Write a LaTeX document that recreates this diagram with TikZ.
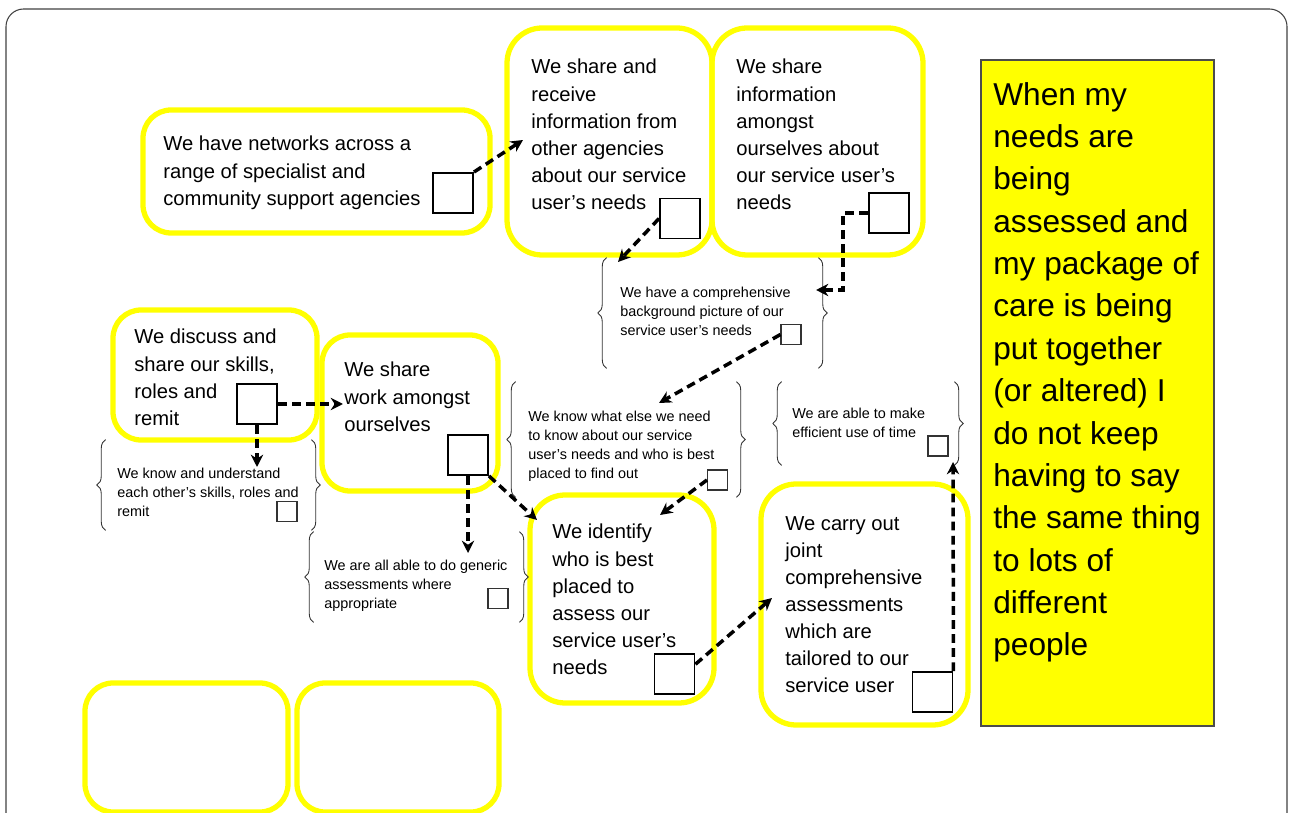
\documentclass[tikz,border=0pt]{standalone}
\usepackage{fontspec}
\setmainfont{Liberation Sans}
\usetikzlibrary{arrows.meta, fit, calc, decorations.pathreplacing}
\definecolor{cardyellow}{RGB}{255,255,0}
\tikzset{
  ybox/.style     = {draw=cardyellow, line width=3pt, rounded corners=16pt,
                     inner sep=0pt},
  tickbox/.style  = {draw=black, line width=1.1pt, minimum size=0.8cm,
                     inner sep=0pt},
  smallbox/.style = {draw=black!80, line width=0.6pt, minimum size=0.4cm,
                     inner sep=0pt},
  bracebox/.style = {inner sep=0pt},
  curly/.style    = {decorate, decoration={brace, amplitude=5pt},
                     line width=0.5pt, draw=black!80},
  cardtext/.style = {anchor=north west, inner sep=0pt, align=left,
                     font=\fontsize{11.5}{15.4}\selectfont},
  notetext/.style = {anchor=north west, inner sep=0pt, align=left,
                     font=\fontsize{8.2}{10.8}\selectfont},
  bigtext/.style  = {anchor=north west, inner sep=0pt, align=left,
                     font=\fontsize{18}{24.1}\selectfont},
  darrow/.style   = {-{Stealth[length=7pt, width=7pt]}, line width=2pt,
                     dash pattern=on 5pt off 3pt},
}

\begin{document}
\begin{tikzpicture}[x=0.02cm, y=-0.02cm]
  \useasboundingbox (0,0) rectangle (1290,813);
  % outer frame
  \draw[black!75, line width=0.6pt, rounded corners=10pt]
    (6,830) -- (6,9) -- (1287,9) -- (1287,830);

  % yellow cards
  \node[ybox, fit={(143,110) (490,233)}] (net) {};
  \node[ybox, rounded corners=20pt, fit={(507,28) (712,255)}] (recv) {};
  \node[ybox, rounded corners=20pt, fit={(712,28) (923,255)}] (among) {};
  \node[ybox, fit={(113,310) (317,440)}] (disc) {};
  \node[ybox, fit={(322,335) (498,491)}] (work) {};
  \node[ybox, rounded corners=20pt, fit={(530,495) (714,703)}] (ident) {};
  \node[ybox, rounded corners=20pt, fit={(761,484) (968,725)}] (joint) {};
  \node[ybox, fit={(85,683) (288,812)}] (blankA) {};
  \node[ybox, fit={(297,683) (499,812)}] (blankB) {};

  \node[cardtext] (nettext) at (163,136)
    {We have networks across a\\range of specialist and\\community support agencies};
  \node[cardtext] (recvtext) at (531,59)
    {We share and\\receive\\information from\\other agencies\\about our service\\user’s needs};
  \node[cardtext] (amongtext) at (736,59)
    {We share\\information\\amongst\\ourselves about\\our service user’s\\needs};
  \node[cardtext] (disctext) at (134,329)
    {We discuss and\\share our skills,\\roles and\\remit};
  \node[cardtext] (worktext) at (344,362)
    {We share\\work amongst\\ourselves};
  \node[cardtext] (identtext) at (552,524)
    {We identify\\who is best\\placed to\\assess our\\service user’s\\needs};
  \node[cardtext] (jointtext) at (785,516)
    {We carry out\\joint\\comprehensive\\assessments\\which are\\tailored to our\\service user};

  % the user's voice
  \node[draw=black!70, fill=cardyellow, line width=0.8pt, inner sep=0pt,
        fit={(981,60) (1214,726)}] (voice) {};
  \node[bigtext] (voicetext) at (993,82)
    {When my\\needs are\\being\\assessed and\\my package of\\care is being\\put together\\(or altered) I\\do not keep\\having to say\\the same thing\\to lots of\\different\\people};

  % bracketed outcomes
  \node[bracebox, fit={(607,258) (818,368)}] (bgpic) {};
  \node[bracebox, fit={(516,382) (736,497)}] (knowwhat) {};
  \node[bracebox, fit={(782,382) (954,465)}] (efficient) {};
  \node[bracebox, fit={(106,440) (311,530)}] (knowund) {};
  \node[bracebox, fit={(314,532) (519,622)}] (generic) {};
  \foreach \n in {bgpic, knowwhat, efficient, knowund, generic} {
    \draw[curly] (\n.south west) -- (\n.north west);
    \draw[curly] (\n.north east) -- (\n.south east);
  }

  \node[notetext] (bgtext) at (620,287)
    {We have a comprehensive\\background picture of our\\service user’s needs};
  \node[notetext] (kwtext) at (528,411)
    {We know what else we need\\to know about our service\\user’s needs and who is best\\placed to find out};
  \node[notetext] (efftext) at (792,408)
    {We are able to make\\efficient use of time};
  \node[notetext] (kutext) at (117,468)
    {We know and understand\\each other’s skills, roles and\\remit};
  \node[notetext] (gentext) at (324,560)
    {We are all able to do generic\\assessments where\\appropriate};

  % tick boxes
  \node[tickbox] (netsq)   at (453,193)   {};
  \node[tickbox] (recvsq)  at (680,218.5) {};
  \node[tickbox] (amongsq) at (889,213)   {};
  \node[tickbox] (discsq)  at (257,404)   {};
  \node[tickbox] (worksq)  at (468,455)   {};
  \node[tickbox] (idsq)    at (674.5,674) {};
  \node[tickbox] (jointsq) at (932.5,692) {};
  \node[smallbox] (bgsq)  at (791,334.5) {};
  \node[smallbox] (kwsq)  at (717.5,480) {};
  \node[smallbox] (effsq) at (938,446)   {};
  \node[smallbox] (kusq)  at (287,511.5) {};
  \node[smallbox] (gensq) at (498,598.5) {};

  % arrow ends
  \coordinate (t1)  at (523,140);
  \coordinate (t2)  at (618,262);
  \coordinate (t3)  at (816,290);
  \coordinate (t4)  at (659,403);
  \coordinate (t5)  at (660,515);
  \coordinate (t6)  at (537,520);
  \coordinate (t7)  at (468,553);
  \coordinate (t8)  at (343,404);
  \coordinate (t9)  at (257,467);
  \coordinate (t10) at (772,598);
  \coordinate (t11) at (953,462);

  % dashed links
  \draw[darrow] (netsq.north east) -- (t1);
  \draw[darrow] (recvsq.west) -- (t2);
  \draw[darrow] (amongsq.west) -- ++(-25,0) |- (t3);
  \draw[darrow] (bgsq.west) -- (t4);
  \draw[darrow] (kwsq.west) -- (t5);
  \draw[darrow] (worksq.south east) -- (t6);
  \draw[darrow] (worksq.south) -- (t7);
  \draw[darrow] (discsq.east) -- (t8);
  \draw[darrow] (discsq.south) -- (t9);
  \draw[darrow] (idsq.25) -- (t10);
  \draw[darrow] (jointsq.north east) -- (t11);

\end{tikzpicture}
\end{document}
